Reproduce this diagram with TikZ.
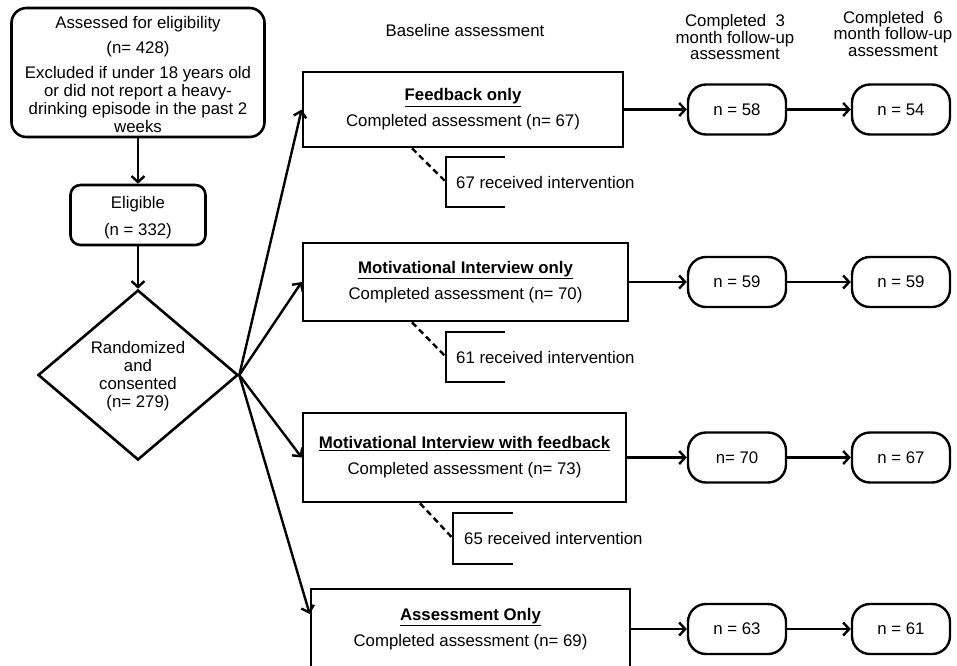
\documentclass[tikz,border=0pt]{standalone}
\usepackage{fontspec}
\setmainfont{Liberation Sans}
\usetikzlibrary{shapes.geometric,arrows.meta}

\begin{document}
\begin{tikzpicture}[
    x=1pt, y=-1pt,
    font=\fontsize{16.8}{18}\selectfont,
    box/.style={
        rectangle,
        draw=black,
        line width=2.6pt,
        align=center
    },
    roundbox/.style={
        rectangle,
        draw=black,
        line width=2.6pt,
        align=center,
        inner sep=0pt
    },
    decision/.style={
        diamond,
        draw=black,
        line width=2.6pt,
        minimum width=200pt,
        minimum height=170pt,
        inner sep=0pt,
        align=center
    },
    pill/.style={
        rectangle,
        draw=black,
        line width=2.4pt,
        rounded corners=18pt,
        minimum width=98pt,
        minimum height=50pt
    },
    arrow/.style={-{Straight Barb[length=6pt,width=13pt]}, line width=2.4pt},
    dashline/.style={line width=2.4pt, dash pattern=on 6pt off 4pt},
    bracket/.style={line width=2.4pt},
]
\useasboundingbox (0,0) rectangle (957,665);
\clip (0,0) rectangle (957,665);

% Column headers
\node (base) at (465,30) {Baseline assessment};
\node[align=center, font=\fontsize{16.8}{16.5}\selectfont] (mo3) at (735,37) {Completed\ \ 3\\month follow-up\\assessment};
\node[align=center, font=\fontsize{16.8}{16.5}\selectfont] (mo6) at (893,33.5) {Completed\ \ 6\\month follow-up\\assessment};

% === SCREENING ===
\node[roundbox, minimum width=253pt, minimum height=129pt, rounded corners=15pt] (assess) at (138,72.5)
{\rule{0pt}{16pt}Assessed for eligibility\\[7pt](n= 428)\\[7pt]Excluded if under 18 years old\\or did not report a heavy-\\drinking episode in the past 2\\weeks};
\node[roundbox, minimum width=135pt, minimum height=60pt, rounded corners=10pt] (elig) at (138,215)
{\rule{0pt}{17pt}Eligible\\[9pt](n = 332)};
\node[decision] (rand) at (138,375) {\rule{0pt}{15pt}Randomized\\and\\consented\\(n= 279)};

% === GROUPS (baseline) ===
\node[box, minimum width=320pt, minimum height=75pt] (fb) at (463,109.5)
{\underline{\textbf{Feedback only}}\\[8pt]Completed assessment (n= 67)};
\node[box, minimum width=325pt, minimum height=78pt] (mio) at (465.5,282)
{\underline{\textbf{Motivational Interview only}}\\[8pt]Completed assessment (n= 70)};
\node[box, minimum width=323pt, minimum height=89pt] (mifb) at (464.5,457.5)
{\underline{\textbf{Motivational Interview with feedback}}\\[8pt]Completed assessment (n= 73)};
\node[box, minimum width=319pt, minimum height=80pt] (ao) at (470.5,629)
{\underline{\textbf{Assessment Only}}\\[8pt]Completed assessment (n= 69)};

% Follow-up
\node[pill] (fb3) at (737,109.5) {n = 58};
\node[pill] (fb6) at (901,109.5) {n = 54};
\node[pill] (mio3) at (737,282) {n = 59};
\node[pill] (mio6) at (901,282) {n = 59};
\node[pill] (mifb3) at (737,457.5) {n= 70};
\node[pill] (mifb6) at (901,457.5) {n = 67};
\node[pill] (ao3) at (737,629) {n = 63};
\node[pill] (ao6) at (901,629) {n = 61};

% Received intervention
\coordinate (brFB) at (446,182);
\coordinate (brMIO) at (446,357);
\coordinate (brMIFB) at (453,538.5);
\node[anchor=west, inner sep=0pt] (rFB) at (456,182) {67 received intervention};
\node[anchor=west, inner sep=0pt] (rMIO) at (456,357) {61 received intervention};
\node[anchor=west, inner sep=0pt] (rMIFB) at (464,538.5) {65 received intervention};

% Arrows
\draw[arrow] (assess) -- (elig);
\draw[arrow] (elig) -- (rand);

\draw[arrow] (rand.east) -- (fb.west);
\draw[arrow] (rand.east) -- (mio.west);
\draw[arrow] (rand.east) -- (mifb.west);
\draw[arrow] (rand.east) -- ([yshift=15pt]ao.west);

\draw[arrow] (fb) -- (fb3);
\draw[arrow] (fb3) -- (fb6);
\draw[arrow] (mio) -- (mio3);
\draw[arrow] (mio3) -- (mio6);
\draw[arrow] (mifb) -- (mifb3);
\draw[arrow] (mifb3) -- (mifb6);
\draw[arrow] (ao) -- (ao3);
\draw[arrow] (ao3) -- (ao6);

% dashed links + brackets
\draw[dashline] ([xshift=-51pt]fb.south) -- (brFB);
\draw[dashline] ([xshift=-53.5pt]mio.south) -- (brMIO);
\draw[dashline] ([xshift=-44.5pt]mifb.south) -- (brMIFB);
\draw[bracket] (brFB) ++(59,-25) -- ++(-59,0) -- ++(0,50) -- ++(59,0);
\draw[bracket] (brMIO) ++(59,-25) -- ++(-59,0) -- ++(0,50) -- ++(59,0);
\draw[bracket] (brMIFB) ++(60,-25.5) -- ++(-60,0) -- ++(0,51) -- ++(60,0);

\end{tikzpicture}
\end{document}
